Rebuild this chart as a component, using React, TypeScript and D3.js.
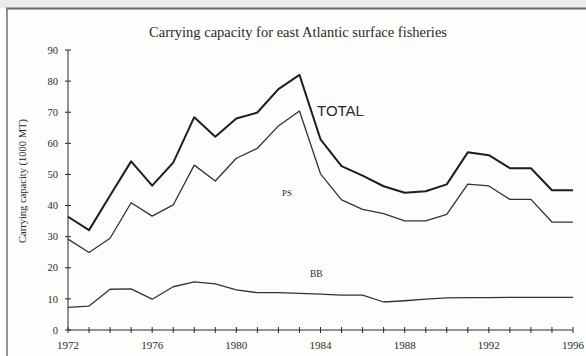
import React from "react";
import * as d3 from "d3";

// Carrying capacity (1000 MT), east Atlantic surface fisheries, 1972–1996
const years = d3.range(1972, 1997);
const totalSeries = [
  36.4, 32.1, 43.2, 54.2, 46.4, 53.8, 68.4, 62.1, 68, 69.9, 77.4, 82, 61.3,
  52.7, 49.6, 46.2, 44.1, 44.6, 46.8, 57.1, 56.2, 52, 52, 44.9, 44.9,
];
const psSeries = [
  29.2, 24.9, 29.5, 40.9, 36.6, 40.2, 53, 47.9, 55.2, 58.4, 65.6, 70.4, 50.2,
  41.8, 38.8, 37.4, 35.1, 35.1, 37.2, 46.9, 46.3, 42, 42, 34.7, 34.7,
];
const bbSeries = [
  7.3, 7.7, 13.1, 13.2, 9.9, 13.9, 15.5, 14.8, 12.9, 12, 12, 11.8, 11.5, 11.2,
  11.2, 9, 9.4, 9.9, 10.3, 10.4, 10.4, 10.5, 10.5, 10.5, 10.5,
];
const yTicks = [0, 10, 20, 30, 40, 50, 60, 70, 80, 90];
const xLabelYears = [1972, 1976, 1980, 1984, 1988, 1992, 1996];

const W = 586;
const H = 356;
const serif = "'Liberation Serif', 'DejaVu Serif', serif";
const sans = "'Liberation Sans', Arial, sans-serif";
const ink = "#2a2a2a";

export default function App() {
  const x = d3.scaleLinear().domain([1972, 1996]).range([68, 573]);
  const y = d3.scaleLinear().domain([0, 90]).range([330, 50]);
  const line = d3
    .line<number>()
    .x((_, i) => x(years[i]))
    .y((d) => y(d));

  return (
    <div style={{ position: "fixed", left: 0, top: 0 }}>
      <svg width={W} height={H} style={{ display: "block", background: "#fdfdfc" }}>
        {/* page strip and frame */}
        <rect x={0} y={0} width={W} height={8} fill="#ebebea" />
        <line x1={6} x2={W} y1={8.5} y2={8.5} stroke="#6a6a6a" strokeWidth={2} />
        <line x1={7} x2={7} y1={8} y2={H} stroke="#7a7a7a" strokeWidth={1.6} />

        <text x={298} y={37} textAnchor="middle" fontFamily={serif} fontSize={14.5} fill={ink}>
          Carrying capacity for east Atlantic surface fisheries
        </text>

        {/* y axis */}
        <line x1={x(1972)} x2={x(1972)} y1={y(0)} y2={y(90)} stroke={ink} strokeWidth={1} />
        {yTicks.map((t) => (
          <g key={t}>
            <line x1={x(1972) - 3} x2={x(1972) + 3} y1={y(t)} y2={y(t)} stroke={ink} strokeWidth={1} />
            <text
              x={58}
              y={y(t)}
              dy="0.35em"
              textAnchor="end"
              fontFamily={serif}
              fontSize={10.5}
              fill={ink}
            >
              {t}
            </text>
          </g>
        ))}
        <text
          transform="translate(22,181) rotate(-90)"
          textAnchor="middle"
          dy="0.35em"
          fontFamily={serif}
          fontSize={10.5}
          fill={ink}
        >
          Carrying capacity (1000 MT)
        </text>

        {/* x axis */}
        <line x1={x(1972)} x2={x(1996)} y1={y(0)} y2={y(0)} stroke={ink} strokeWidth={1} />
        {years.map((yr) => (
          <line key={yr} x1={x(yr)} x2={x(yr)} y1={y(0) - 3} y2={y(0) + 3} stroke={ink} strokeWidth={1} />
        ))}
        {xLabelYears.map((yr) => (
          <text key={yr} x={x(yr)} y={349} textAnchor="middle" fontFamily={serif} fontSize={11} fill={ink}>
            {yr}
          </text>
        ))}

        {/* series */}
        <path d={line(totalSeries) ?? ""} fill="none" stroke="#1e1e1e" strokeWidth={2} strokeLinejoin="round" />
        <path d={line(psSeries) ?? ""} fill="none" stroke="#333" strokeWidth={1.3} strokeLinejoin="round" />
        <path d={line(bbSeries) ?? ""} fill="none" stroke="#333" strokeWidth={1.3} strokeLinejoin="round" />

        <text x={317} y={116} fontFamily={sans} fontSize={15} fill={ink}>
          TOTAL
        </text>
        <text x={282} y={196} fontFamily={serif} fontSize={9} fill={ink}>
          PS
        </text>
        <text x={310} y={277} fontFamily={serif} fontSize={9.5} fill={ink}>
          BB
        </text>
      </svg>
    </div>
  );
}
